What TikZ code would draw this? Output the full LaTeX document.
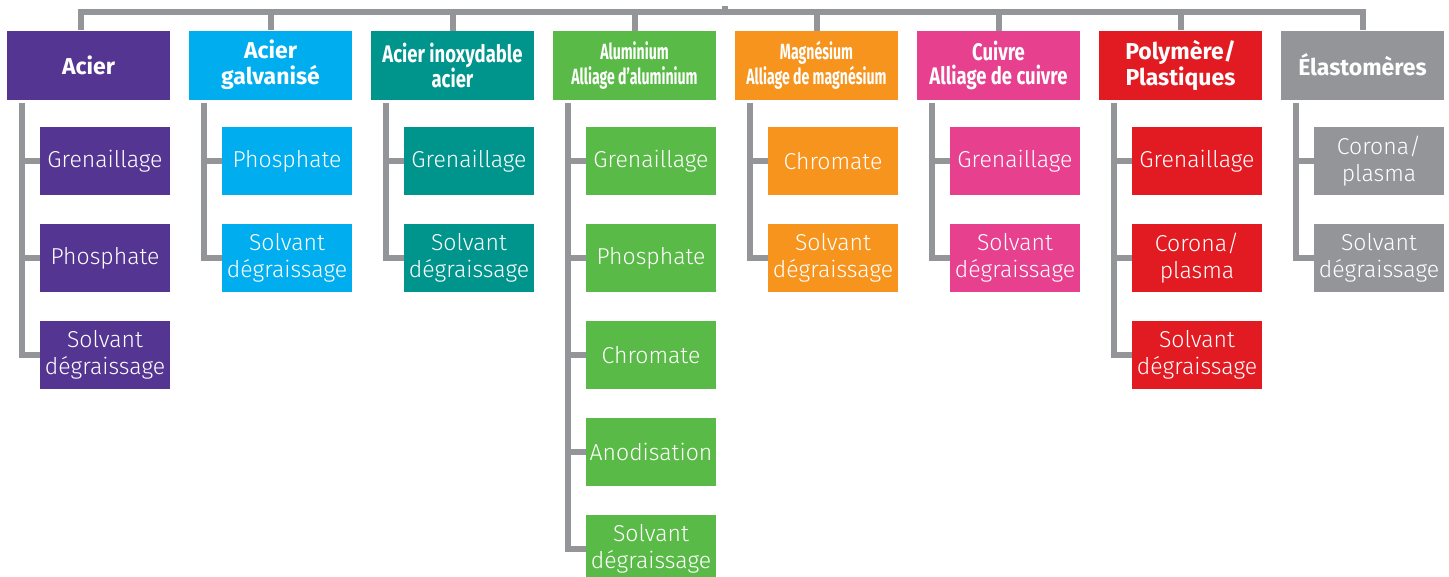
\documentclass[tikz,border=0pt]{standalone}
\usepackage{fontspec}
\setmainfont{Fira Sans}
\newfontfamily\lightfont{Fira Sans Light}
\newfontfamily\condfont{Fira Sans}[FakeStretch=0.64]
\newfontfamily\condfontb{Fira Sans}[FakeStretch=0.77]
\definecolor{cgray}{HTML}{939598}
\definecolor{cpurple}{HTML}{553592}
\definecolor{ccyan}{HTML}{00AEEF}
\definecolor{cteal}{HTML}{00958C}
\definecolor{cgreen}{HTML}{5ABA47}
\definecolor{corange}{HTML}{F7941D}
\definecolor{cpink}{HTML}{E6408F}
\definecolor{cred}{HTML}{E21B23}
\definecolor{cgrey}{HTML}{939598}
\begin{document}
\begin{tikzpicture}[x=1pt,y=-1pt,
  conn/.style={draw=cgray, line width=6pt},
  hdr/.style={fill=#1, minimum width=163pt, minimum height=69pt, inner sep=0pt, text=white, align=center,
    font=\fontsize{23}{26}\selectfont\bfseries},
  hdrc/.style={hdr=#1, font=\condfont\fontsize{22}{25.5}\selectfont\bfseries},
  hdrw/.style={hdr=#1, font=\condfontb\fontsize{24}{24.5}\selectfont\bfseries},
  sub/.style={fill=#1, minimum width=130pt, minimum height=68pt, inner sep=0pt, text=white, align=center,
    font=\lightfont\fontsize{23}{27.5}\selectfont}]
\useasboundingbox (0,0) rectangle (1449,576);
\clip (0,0) rectangle (1449,576);
% headers
\node[hdr=cpurple] (h1) at (88.5,65) {Acier};
\node[hdr=ccyan] (h2) at (270.5,65) {Acier\\galvanisé};
\node[hdrw=cteal] (h3) at (452.5,65.5) {Acier inoxydable\\acier};
\node[hdrc=cgreen] (h4) at (634.5,65.5) {Aluminium\\Alliage d’aluminium};
\node[hdrc=corange] (h5) at (816.5,65.5) {Magnésium\\Alliage de magnésium};
\node[hdrw=cpink] (h6) at (998.5,65.5) {Cuivre\\Alliage de cuivre};
\node[hdr=cred] (h7) at (1180.5,65) {Polymère/\\Plastiques};
\node[hdr=cgrey] (h8) at (1362.5,65) {Élastomères};
% children
\node[sub=cpurple] (a1) at (105,161) {Grenaillage};
\node[sub=cpurple] (a2) at (105,258) {Phosphate};
\node[sub=cpurple] (a3) at (105,355) {Solvant\\dégraissage};
\node[sub=ccyan] (b1) at (287,161) {Phosphate};
\node[sub=ccyan] (b2) at (287,258) {Solvant\\dégraissage};
\node[sub=cteal] (c1) at (469,161) {Grenaillage};
\node[sub=cteal] (c2) at (469,258) {Solvant\\dégraissage};
\node[sub=cgreen] (d1) at (651,161) {Grenaillage};
\node[sub=cgreen] (d2) at (651,258) {Phosphate};
\node[sub=cgreen] (d3) at (651,355) {Chromate};
\node[sub=cgreen] (d4) at (651,452) {Anodisation};
\node[sub=cgreen] (d5) at (651,549) {Solvant\\dégraissage};
\node[sub=corange] (e1) at (833,161) {Chromate};
\node[sub=corange] (e2) at (833,258) {Solvant\\dégraissage};
\node[sub=cpink] (f1) at (1015,161) {Grenaillage};
\node[sub=cpink] (f2) at (1015,258) {Solvant\\dégraissage};
\node[sub=cred] (g1) at (1197,161) {Grenaillage};
\node[sub=cred] (g2) at (1197,258) {Corona/\\plasma};
\node[sub=cred] (g3) at (1197,355) {Solvant\\dégraissage};
\node[sub=cgrey] (k1) at (1379,161) {Corona/\\plasma};
\node[sub=cgrey] (k2) at (1379,258) {Solvant\\dégraissage};
% top bar
\coordinate (bar) at (0,12);
\coordinate (root) at (725,6);
\draw[conn] ([xshift=-8pt]h1.north) -- ++(0,-18) -| (h8.north);
\draw[conn] (root) -- (root |- bar);
\foreach \h in {h2,h3,h4,h5,h6,h7}{\draw[conn] (\h.north) -- (\h.north |- bar);}
% child connectors
\coordinate (v1) at (21.5,103);
\coordinate (v2) at (203.5,103);
\coordinate (v3) at (385.5,103);
\coordinate (v4) at (567.5,103);
\coordinate (v5) at (749.5,103);
\coordinate (v6) at (931.5,103);
\coordinate (v7) at (1113.5,103);
\coordinate (v8) at (1295.5,103);
\foreach \c in {a1,a2,a3}{\draw[conn] (v1) |- (\c.west);}
\foreach \c in {b1,b2}{\draw[conn] (v2) |- (\c.west);}
\foreach \c in {c1,c2}{\draw[conn] (v3) |- (\c.west);}
\foreach \c in {d1,d2,d3,d4,d5}{\draw[conn] (v4) |- (\c.west);}
\foreach \c in {e1,e2}{\draw[conn] (v5) |- (\c.west);}
\foreach \c in {f1,f2}{\draw[conn] (v6) |- (\c.west);}
\foreach \c in {g1,g2,g3}{\draw[conn] (v7) |- (\c.west);}
\foreach \c in {k1,k2}{\draw[conn] (v8) |- (\c.west);}
\end{tikzpicture}
\end{document}
